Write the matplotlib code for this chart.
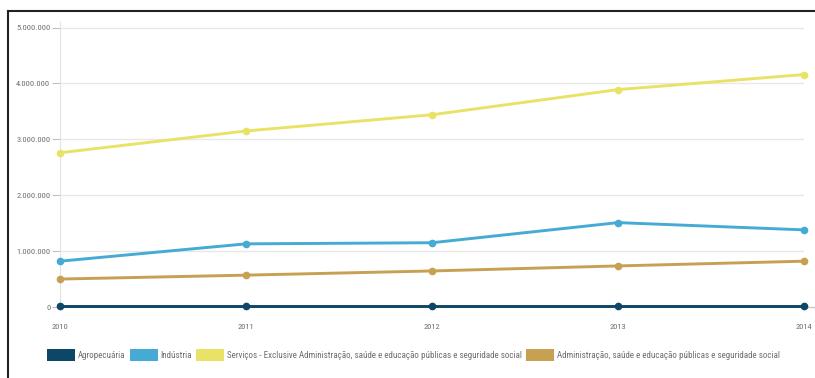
import matplotlib
matplotlib.use("Agg")
import matplotlib.pyplot as plt
from matplotlib.patches import Patch
from matplotlib.lines import Line2D
from matplotlib import font_manager

years = [2010, 2011, 2012, 2013, 2014]
agropecuaria = [15000, 15000, 15000, 15000, 15000]
industria = [820000, 1130000, 1150000, 1510000, 1380000]
servicos = [2760000, 3150000, 3440000, 3890000, 4160000]
administracao = [500000, 570000, 645000, 735000, 820000]

series_names = [
    "Agropecuária",
    "Indústria",
    "Serviços - Exclusive Administração, saúde e educação públicas e seguridade social",
    "Administração, saúde e educação públicas e seguridade social",
]
series_values = [agropecuaria, industria, servicos, administracao]
colors = ["#0d4768", "#45aad4", "#e8e266", "#c8a052"]

y_ticks = [0, 1000000, 2000000, 3000000, 4000000, 5000000]
y_tick_labels = ["0", "1.000.000", "2.000.000", "3.000.000", "4.000.000", "5.000.000"]

# prefer a narrow sans face when one is installed
names = {f.name for f in font_manager.fontManager.ttflist}
narrow = None
for cand in ["Liberation Sans Narrow", "Arial Narrow", "DejaVu Sans Condensed", "Roboto Condensed"]:
    if cand in names:
        narrow = cand
        break
if narrow:
    plt.rcParams["font.family"] = [narrow, "DejaVu Sans"]
    fs_tick, fs_leg = 6.1, 6.5
else:
    plt.rcParams["font.family"] = ["Liberation Sans", "DejaVu Sans"]
    fs_tick, fs_leg = 5.4, 5.8

text_grey = "#6e6e6e"

fig = plt.figure(figsize=(8.15, 3.78), dpi=100)
ax = fig.add_axes([60 / 815, (378 - 307) / 378, (804 - 60) / 815, (307 - 22) / 378])

for vals, col in zip(series_values, colors):
    ax.plot(years, vals, color=col, lw=2.1, marker="o", ms=4.5, clip_on=False,
            solid_capstyle="round", zorder=3)

ax.set_xlim(2010, 2014)
ax.set_ylim(0, 5100000)
ax.set_yticks(y_ticks)
ax.set_yticklabels(y_tick_labels)
ax.set_xticks(years)
ax.set_xticklabels([str(y) for y in years])

ax.grid(axis="y", color="#e8e8e8", lw=1)
ax.set_axisbelow(True)
for s in ["top", "right"]:
    ax.spines[s].set_visible(False)
ax.spines["left"].set_color("#e2e2e2")
ax.spines["bottom"].set_color("#c8c8c8")
ax.tick_params(axis="y", colors="#c0c0c0", labelcolor=text_grey, labelsize=fs_tick, length=6, width=0.8, pad=1)
ax.tick_params(axis="x", colors="#c0c0c0", labelcolor=text_grey, labelsize=fs_tick, length=0, pad=12)

# extend the baseline a bit past the last year
ax.plot([2014, 2014.06], [0, 0], color="#c8c8c8", lw=1, clip_on=False, zorder=1)

em = fs_leg * 100 / 72
handles = [Patch(facecolor=c, edgecolor="none") for c in colors]
leg = fig.legend(handles, series_names, loc="center left", bbox_to_anchor=(47 / 815, 1 - 355 / 378),
                 ncol=4, frameon=False, fontsize=fs_leg, handlelength=28 / em, handleheight=14 / em,
                 handletextpad=3 / em, columnspacing=4 / em, borderaxespad=0, borderpad=0)
for t in leg.get_texts():
    t.set_color(text_grey)

# outer frame on the top and left edges
fig.add_artist(Line2D([8 / 815, 1], [1 - 11 / 378, 1 - 11 / 378], color="#222222", lw=1.5, transform=fig.transFigure))
fig.add_artist(Line2D([8 / 815, 8 / 815], [0, 1 - 11 / 378], color="#222222", lw=1.5, transform=fig.transFigure))

fig.savefig("out.png", dpi=100, facecolor="white")
